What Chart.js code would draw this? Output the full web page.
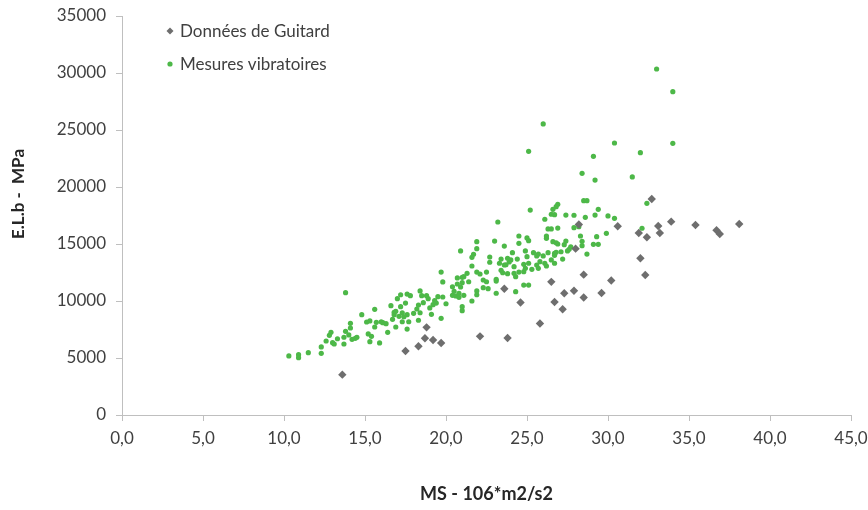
<!DOCTYPE html>
<html>
<head>
<meta charset="utf-8">
<script src="https://cdn.jsdelivr.net/npm/chart.js@4/dist/chart.umd.min.js"></script>
<style>
  html, body { margin: 0; padding: 0; background: #fff; }
  #wrap { width: 868px; height: 510px; }
</style>
</head>
<body>
<div id="wrap"><canvas id="myChart" width="868" height="510"></canvas></div>
<script>
// Données de Guitard : MS (106*m2/s2) et E.L.b (MPa)
const guitardMS = [13.6, 17.5, 18.3, 18.8, 18.7, 19.2, 19.7, 22.1, 23.8, 23.6, 24.6, 25.8,
  26.5, 26.7, 27.3, 27.2, 27.9, 28.0, 28.5, 28.5, 28.2, 29.6, 30.2, 30.6, 31.9, 32.0,
  32.3, 32.4, 32.7, 33.1, 33.2, 33.9, 35.4, 36.7, 36.9, 38.1];
const guitardELb = [3540, 5610, 6030, 7690, 6730, 6580, 6320, 6900, 6750, 11080, 9870, 8030,
  11680, 9910, 10680, 9270, 10900, 14590, 12310, 10310, 16710, 10700, 11800, 16560, 15970, 13750,
  12280, 15590, 18950, 16580, 15970, 16960, 16670, 16200, 15880, 16750];

// Mesures vibratoires
const vibMS = [
  10.3, 10.9, 10.9, 11.5, 12.3, 12.3, 12.6, 12.8, 12.9, 13.0, 13.1, 13.3, 13.7, 13.8, 13.7,
  14.1, 14.1, 14.0, 14.2, 14.4, 14.5, 13.8, 14.8, 15.1, 15.3, 15.2, 15.4, 15.3, 15.6, 15.6,
  15.7, 15.9, 16.0, 16.1, 16.3, 16.4, 16.6, 16.7, 16.8, 16.8, 16.9, 16.9, 17.0, 17.1, 17.2,
  17.2, 17.3, 17.3, 17.4, 17.5, 17.6, 17.6, 17.7, 17.8, 17.6, 18.0, 18.2, 18.3, 18.4, 18.4,
  18.5, 18.3, 18.6, 18.8, 18.9, 19.0, 19.1, 19.2, 19.4, 19.3, 19.5, 19.7, 19.8, 19.8, 20.0,
  20.4, 20.4, 20.5, 20.6, 20.8, 20.9, 21.0, 21.0, 21.0, 21.1, 20.8,
  19.7, 20.7, 21.0, 21.1, 20.9, 20.7, 21.4, 21.7, 21.6, 21.6, 21.9, 21.9, 21.9, 22.1, 21.3,
  22.5, 22.3, 22.7, 22.7, 23.0, 23.2, 23.1, 23.3, 23.4, 23.4, 23.6, 23.6, 23.7, 23.8, 21.9,
  21.9, 21.6, 22.3, 22.5, 22.6, 23.1, 23.1, 24.3, 24.8, 25.1, 24.1, 23.8, 24.5, 24.5, 25.0,
  25.1, 25.0, 25.4, 25.6, 26.0, 26.3, 26.5, 26.7, 27.1, 27.5, 26.7, 26.2, 25.7, 25.3, 24.8,
  23.9, 24.2, 24.2, 24.3, 23.5, 24.5, 24.8, 26.2, 26.3, 26.5, 26.9, 26.6, 26.9, 27.7, 28.7,
  29.1, 29.4, 29.3, 28.3, 28.4, 28.4, 27.9, 27.2, 27.3, 27.4, 25.8, 25.6, 25.1, 24.9, 26.1,
  26.7, 26.8, 25.7, 24.9, 24.4, 24.0, 26.2, 26.8, 27.6,
  25.2, 26.1, 26.9, 26.8, 26.6, 26.5, 26.7, 27.4, 27.9, 28.5, 28.7, 28.6, 29.2, 29.4, 30.0,
  30.4, 32.4, 32.1, 29.9, 28.2, 29.1, 28.4, 29.2, 30.4, 32.0, 31.5, 33.0, 34.0, 34.0, 26.0,
  25.1
];
const vibELb = [
  5180, 5290, 5030, 5470, 5970, 5410, 6490, 6990, 7250, 6340, 6230, 6690, 6820, 7340, 6230,
  8040, 7630, 7020, 6640, 6730, 6820, 10730, 8800, 8160, 8250, 7110, 6900, 6430, 7720, 9270,
  8130, 6320, 8180, 8100, 8010, 7250, 9590, 8390, 8800, 9010, 9100, 7720, 10200, 8660, 10550,
  9500, 8950, 8180, 8620, 9820, 10610, 8800, 8180, 10470, 7540, 8920, 9300, 8310, 8970, 10880,
  10470, 9650, 9850, 10470, 10200, 9390, 8830, 9680, 9820, 10030, 10380, 8480, 10350, 11670, 9760,
  10500, 11250, 10850, 10440, 10680, 11230, 11610, 9500, 9150, 10500, 10320,
  12540, 12020, 12080, 12130, 14390, 11490, 11690, 14100, 13830, 13070, 15200, 14590, 12540, 12370, 12430,
  12540, 11840, 13400, 13860, 15260, 16930, 11900, 13310, 13680, 12690, 14820, 13160, 13180, 12400, 10880,
  10550, 10000, 11170, 11690, 11080, 11750, 10680, 10820, 11400, 11400, 14240, 13750, 15060, 15700, 15530,
  15290, 13890, 14240, 13950, 13950, 14240, 13600, 14180, 14320, 14390, 13310, 13070, 12870, 12780, 13220,
  13420, 13010, 12430, 12130, 12480, 12540, 12570, 15700, 16320, 16320, 16400, 15200, 15000, 14760, 14120,
  14970, 14970, 15640, 15700, 15240, 14850, 16430, 13680, 14940, 15260, 13450, 13160, 13310, 12870, 13310,
  14010, 14270, 14120, 14390, 13680, 13600, 15500, 15110, 14540,
  17980, 17170, 18480, 18270, 18040, 17610, 17570, 17540, 17520, 18800, 18800, 17340, 17540, 18040, 17460,
  17250, 18570, 16380, 15940, 16520, 22690, 21200, 20610, 23860, 23010, 20880, 30350, 28360, 23830, 25530,
  23130
];

const xTitle = "MS - 106*m2/s2";
const yTitle = "E.L.b -  MPa";

const toPoints = (xs, ys) => xs.map((x, i) => ({ x: x, y: ys[i] }));

const GREY = "#6e6e6e";
const GREEN = "#4db848";
const TEXT = "#404040";
const TITLE = "#262626";
const AXIS = "#bfbfbf";
const FONT = "Lato, 'Open Sans', sans-serif";

// legend drawn inside the plot, top left, one entry per row,
// plus the vertical axis title which sits a little above the plot's middle
const annotations = {
  id: "annotations",
  afterDraw(chart) {
    const ctx = chart.ctx;
    const x0 = 170, y0 = 31, rowH = 33;
    ctx.save();
    ctx.font = "17px " + FONT;
    ctx.textBaseline = "middle";
    chart.data.datasets.forEach((ds, i) => {
      const y = y0 + i * rowH;
      ctx.fillStyle = ds.backgroundColor;
      ctx.beginPath();
      if (ds.pointStyle === "rectRot") {
        ctx.moveTo(x0, y - 3.5);
        ctx.lineTo(x0 + 3.5, y);
        ctx.lineTo(x0, y + 3.5);
        ctx.lineTo(x0 - 3.5, y);
        ctx.closePath();
      } else {
        ctx.arc(x0, y, 2.6, 0, Math.PI * 2);
      }
      ctx.fill();
      ctx.fillStyle = TEXT;
      ctx.fillText(ds.label, x0 + 10, y + 1);
    });

    ctx.translate(19, 194);
    ctx.rotate(-Math.PI / 2);
    ctx.font = "bold 17px " + FONT;
    ctx.textAlign = "center";
    ctx.fillStyle = TITLE;
    ctx.fillText(yTitle, 0, 0);
    ctx.restore();
  },
};

const ctx = document.getElementById("myChart").getContext("2d");

new Chart(ctx, {
  type: "scatter",
  data: {
    datasets: [
      {
        label: "Données de Guitard",
        data: toPoints(guitardMS, guitardELb),
        pointStyle: "rectRot",
        pointRadius: 4.2,
        borderWidth: 0,
        backgroundColor: GREY,
        borderColor: GREY,
      },
      {
        label: "Mesures vibratoires",
        data: toPoints(vibMS, vibELb),
        pointStyle: "circle",
        pointRadius: 2.6,
        borderWidth: 0,
        backgroundColor: GREEN,
        borderColor: GREEN,
      },
    ],
  },
  options: {
    responsive: false,
    animation: false,
    layout: { padding: { top: 16, right: 17, left: 0, bottom: 0 } },
    plugins: {
      legend: { display: false },
      tooltip: { enabled: false },
    },
    scales: {
      x: {
        type: "linear",
        min: 0,
        max: 45,
        afterFit: (scale) => {
          scale.height = 95;
          scale.paddingLeft = 0;
          scale.paddingRight = 0;
        },
        ticks: {
          stepSize: 5,
          color: TEXT,
          padding: 7,
          font: { family: FONT, size: 17 },
          callback: (v) => v.toFixed(1).replace(".", ","),
        },
        grid: {
          drawOnChartArea: false,
          color: AXIS,
          tickLength: 6,
        },
        border: { color: AXIS, width: 1 },
        title: {
          display: true,
          text: xTitle,
          color: TITLE,
          font: { family: FONT, size: 18, weight: "bold" },
          padding: { top: 0, bottom: 5 },
        },
      },
      y: {
        min: 0,
        max: 35000,
        afterFit: (scale) => {
          scale.width = 122;
          scale.paddingTop = 0;
          scale.paddingBottom = 0;
        },
        ticks: {
          stepSize: 5000,
          color: TEXT,
          padding: 10,
          font: { family: FONT, size: 17 },
          callback: (v) => String(v),
        },
        grid: {
          drawOnChartArea: false,
          color: AXIS,
          tickLength: 6,
        },
        border: { color: AXIS, width: 1 },
      },
    },
  },
  plugins: [annotations],
});
</script>
</body>
</html>
